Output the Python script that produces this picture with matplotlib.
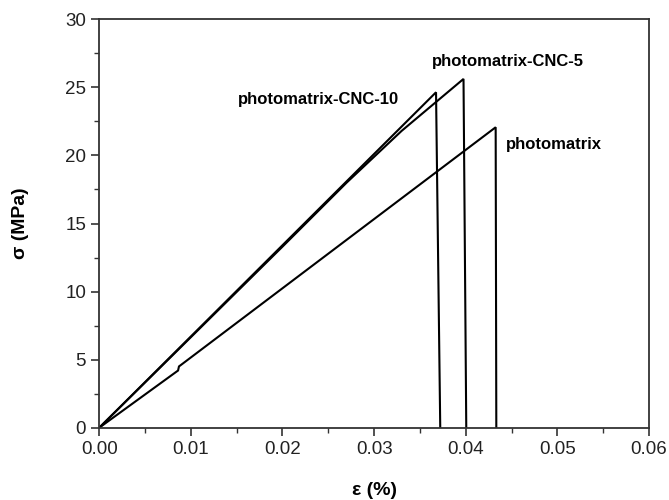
import matplotlib
matplotlib.use("Agg")
import matplotlib.pyplot as plt
from matplotlib.ticker import MultipleLocator

plt.rcParams['font.family'] = ['Liberation Sans', 'DejaVu Sans']

# strain / stress curves
pm_x = [0.0, 0.0086, 0.0087, 0.04327, 0.04334]
pm_y = [0.0, 4.2, 4.5, 22.07, 0.0]
cnc5_x = [0.0, 0.020, 0.027, 0.033, 0.03976, 0.04006]
cnc5_y = [0.0, 13.3, 18.0, 21.8, 25.62, 0.0]
cnc10_x = [0.0, 0.03676, 0.03722]
cnc10_y = [0.0, 24.64, 0.0]

labels = ["photomatrix", "photomatrix-CNC-5", "photomatrix-CNC-10"]
label_x = [0.0444, 0.0363, 0.0151]
label_y = [20.8, 26.9, 24.1]

fig = plt.figure(figsize=(6.69, 5.0), dpi=100)
ax = fig.add_axes([0.1484, 0.1446, 0.8216, 0.8168])

for xs, ys in [(pm_x, pm_y), (cnc5_x, cnc5_y), (cnc10_x, cnc10_y)]:
    ax.plot(xs, ys, color="black", lw=1.5, solid_joinstyle="miter")

for t, x, y in zip(labels, label_x, label_y):
    ax.text(x, y, t, fontsize=12, fontweight="bold", va="center", ha="left")

ax.set_xlim(0, 0.06)
ax.set_ylim(0, 30)
ax.xaxis.set_major_locator(MultipleLocator(0.01))
ax.xaxis.set_minor_locator(MultipleLocator(0.005))
ax.yaxis.set_major_locator(MultipleLocator(5))
ax.yaxis.set_minor_locator(MultipleLocator(2.5))
ax.set_xticklabels([f"{v:.2f}" for v in ax.get_xticks()])

for s in ax.spines.values():
    s.set_linewidth(1.3)
    s.set_color("#333333")
ax.tick_params(which="major", direction="out", length=6, width=1.2, colors="#333333",
               labelsize=13.5, labelcolor="#222222")
ax.tick_params(which="minor", direction="out", length=3.5, width=1.0, colors="#333333")

ax.set_xlabel("ε (%)", fontsize=14, fontweight="bold", labelpad=17)
ax.set_ylabel("σ (MPa)", fontsize=14, fontweight="bold", labelpad=26)

fig.savefig("out.png", dpi=100)
